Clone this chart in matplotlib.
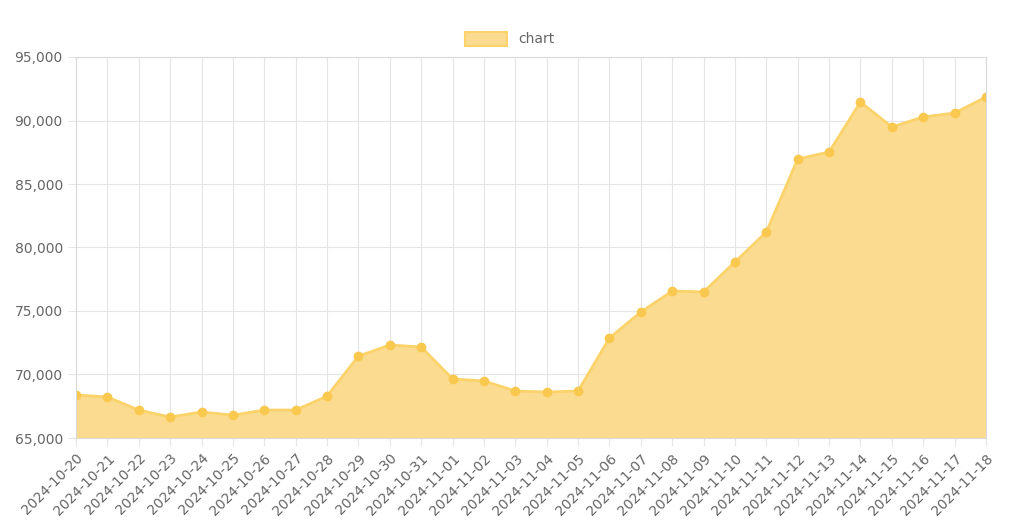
import matplotlib
matplotlib.use("Agg")
import matplotlib.pyplot as plt
from matplotlib.ticker import FuncFormatter

dates = ["2024-10-20","2024-10-21","2024-10-22","2024-10-23","2024-10-24","2024-10-25","2024-10-26",
         "2024-10-27","2024-10-28","2024-10-29","2024-10-30","2024-10-31","2024-11-01","2024-11-02",
         "2024-11-03","2024-11-04","2024-11-05","2024-11-06","2024-11-07","2024-11-08","2024-11-09",
         "2024-11-10","2024-11-11","2024-11-12","2024-11-13","2024-11-14","2024-11-15","2024-11-16",
         "2024-11-17","2024-11-18"]
values = [68390,68230,67200,66650,67050,66800,67200,67200,68300,71450,72320,72170,69650,69490,
          68700,68620,68700,72870,74920,76570,76500,78860,81220,86970,87520,91460,89490,90280,
          90590,91850]

fig = plt.figure(figsize=(10.24,5.23), dpi=100)
ax = fig.add_axes([76/1024, 1-438/523, 910/1024, 381/523])
x = list(range(len(dates)))
line_c = "#fcd36a"
ax.fill_between(x, values, 65000, color="#fadb90", lw=0)
ax.plot(x, values, color=line_c, lw=2, marker="o", ms=6, mfc="#f9c84f", mec="#f9c84f", label="chart")
ax.set_xlim(0, len(dates)-1)
ax.set_ylim(65000, 95000)
ax.set_yticks(range(65000, 95001, 5000))
ax.yaxis.set_major_formatter(FuncFormatter(lambda v,p: f"{int(v):,}"))
ax.set_xticks(x)
ax.set_xticklabels(dates, rotation=45, ha="right", rotation_mode="anchor")
ax.grid(True, color="#e5e5e5", lw=0.8)
ax.set_axisbelow(True)
for s in ax.spines.values():
    s.set_color("#d9d9d9")
ax.tick_params(colors="#666666", labelsize=10, length=6, color="#e5e5e5")
from matplotlib.patches import Patch
fig.legend(handles=[Patch(facecolor="#fadb90", edgecolor=line_c, lw=1.5, label="chart")],
           loc="center", bbox_to_anchor=(510/1024, 1-39/523), frameon=False,
           fontsize=10, labelcolor="#666666", handlelength=3, handleheight=1.2)
fig.savefig("out.png", dpi=100)
